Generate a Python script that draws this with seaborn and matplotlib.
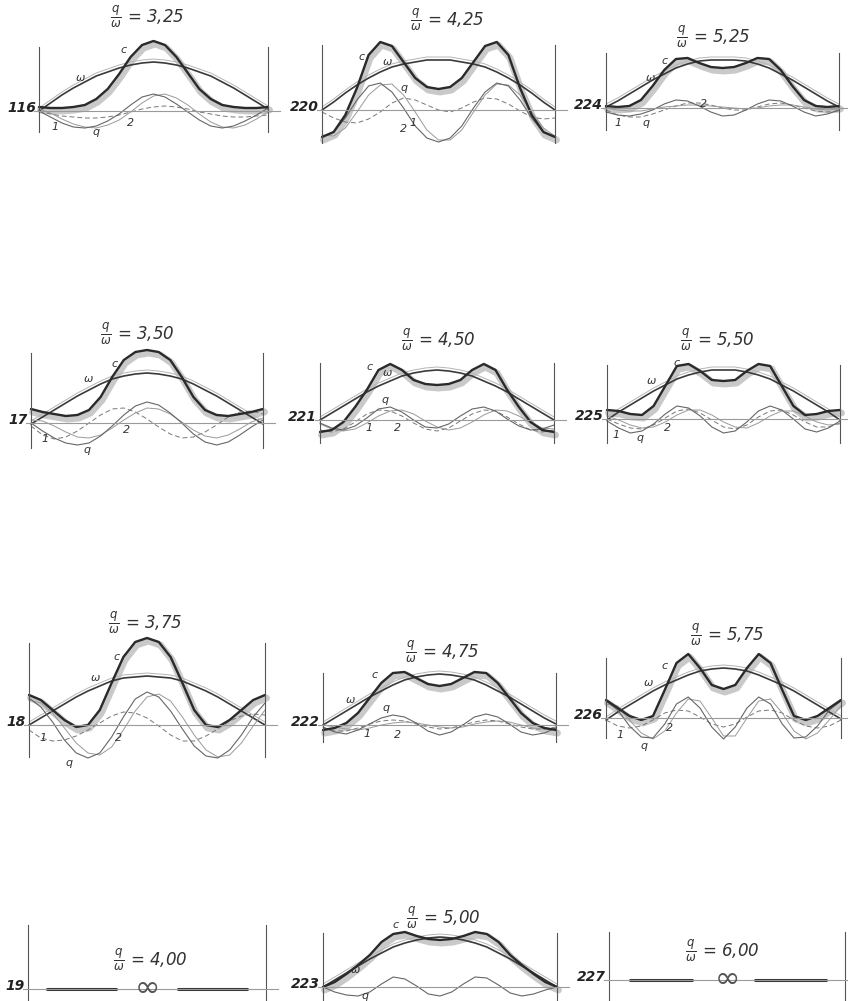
import numpy as np
import matplotlib
matplotlib.use("Agg")
import matplotlib.pyplot as plt
import seaborn as sns
from matplotlib.transforms import offset_copy

# x positions along the span (0 = left support, 1 = right support)
T = np.linspace(0, 1, 21)

# curve heights, in pixels above the baseline
W_325 = [0, 8, 16, 23, 29, 35, 39, 43, 46, 48, 49, 48, 46, 43, 39, 35, 29, 23, 16, 9, 2]
C_325 = [4, 3, 3, 4, 6, 12, 22, 37, 54, 66, 70, 66, 54, 38, 22, 12, 6, 4, 3, 3, 4]
Q_325 = [0, -6, -12, -16, -17, -15, -10, -3, 6, 14, 17, 14, 7, -1, -9, -15, -17, -15, -10, -4, 3]
ONE_325 = [0, -3, -5, -6, -7, -7, -6, -4, -1, 2, 4, 5, 4, 2, -1, -3, -5, -6, -6, -5, -4]
TWO_325 = [2, -2, -8, -13, -16, -17, -14, -9, -1, 8, 15, 17, 13, 6, -3, -11, -16, -17, -14, -8, -1]

W_425 = [0, 8, 17, 25, 32, 38, 43, 46, 48, 50, 50, 50, 48, 46, 43, 38, 32, 25, 17, 8, 0]
C_425 = [-27, -22, -5, 22, 55, 68, 64, 48, 32, 23, 21, 23, 32, 48, 64, 68, 55, 22, -5, -22, -27]
Q_425 = [-27, -22, -8, 10, 24, 27, 18, 2, -16, -28, -32, -28, -16, 2, 18, 27, 24, 10, -8, -22, -27]
ONE_425 = [-2, -8, -12, -13, -9, -2, 7, 12, 10, 5, 0, -2, 2, 8, 12, 11, 6, -1, -7, -9, -8]
TWO_425 = [-25, -26, -18, -2, 15, 25, 26, 15, -2, -20, -30, -30, -20, -2, 15, 26, 25, 15, -2, -18, -26]

W_525 = [1, 7, 14, 21, 28, 34, 40, 44, 47, 48, 48, 48, 47, 44, 40, 34, 28, 21, 14, 7, 1]
C_525 = [2, 1, 2, 8, 22, 38, 49, 50, 45, 41, 40, 41, 45, 50, 49, 38, 22, 8, 2, 1, 2]
Q_525 = [-4, -7, -8, -6, -2, 4, 8, 7, 2, -4, -8, -7, -2, 4, 8, 7, 2, -4, -8, -6, -2]
ONE_525 = [-2, -7, -9, -9, -6, -2, 2, 5, 5, 3, 0, -2, -2, 1, 4, 5, 3, 0, -3, -4, -3]
TWO_525 = [0, -2, -3, -3, -1, 1, 2, 3, 3, 2, 1, 0, -1, 0, 2, 3, 3, 1, -1, -2, -1]

W_350 = [-1, 6, 13, 20, 27, 33, 39, 44, 47, 49, 50, 49, 47, 44, 39, 33, 27, 20, 13, 6, -1]
C_350 = [14, 11, 9, 7, 8, 13, 26, 46, 63, 71, 73, 71, 63, 46, 26, 13, 8, 7, 9, 11, 14]
Q_350 = [0, -8, -15, -20, -22, -20, -13, -3, 8, 17, 21, 18, 10, 0, -11, -19, -22, -19, -12, -4, 3]
ONE_350 = [-3, -12, -16, -14, -8, 0, 8, 14, 15, 11, 4, -4, -11, -15, -14, -9, -2, 6, 11, 12, 9]
TWO_350 = [3, 2, -3, -9, -14, -15, -12, -5, 3, 10, 15, 14, 9, 1, -7, -13, -15, -12, -6, 1, 5]

W_450 = [0, 7, 14, 21, 28, 34, 39, 44, 47, 49, 50, 49, 47, 44, 39, 34, 28, 21, 14, 7, 0]
C_450 = [-12, -10, -2, 13, 30, 50, 56, 50, 40, 36, 35, 36, 40, 50, 56, 50, 30, 13, -2, -10, -12]
Q_450 = [-3, -8, -10, -6, 2, 11, 13, 8, 0, -7, -8, -4, 4, 11, 13, 9, 1, -6, -10, -9, -5]
ONE_450 = [-10, -12, -9, -2, 6, 10, 9, 4, -3, -9, -11, -8, -1, 6, 10, 9, 3, -4, -10, -12, -10]
TWO_450 = [-4, -9, -11, -9, -3, 4, 9, 10, 6, -1, -7, -10, -8, -2, 5, 10, 9, 4, -3, -8, -9]

W_550 = [-1, 7, 14, 21, 28, 34, 40, 44, 47, 49, 49, 49, 47, 44, 40, 34, 28, 21, 14, 7, -1]
C_550 = [9, 8, 5, 4, 13, 33, 53, 55, 48, 39, 38, 39, 48, 55, 53, 33, 13, 4, 5, 8, 9]
Q_550 = [-2, -9, -14, -12, -5, 5, 13, 11, 3, -8, -14, -12, -3, 8, 13, 9, 0, -10, -13, -9, -2]
ONE_550 = [0, -5, -9, -10, -6, 1, 8, 10, 6, -1, -8, -10, -6, 2, 8, 9, 4, -3, -8, -8, -4]
TWO_550 = [3, -1, -6, -9, -8, -3, 4, 9, 9, 4, -3, -8, -9, -4, 3, 8, 8, 3, -3, -6, -5]

W_375 = [0, 7, 14, 21, 28, 34, 39, 44, 47, 48, 49, 48, 47, 44, 39, 34, 28, 21, 14, 7, 0]
C_375 = [30, 25, 15, 5, -2, 0, 15, 42, 68, 83, 87, 83, 68, 42, 15, 0, -2, 5, 15, 25, 30]
Q_375 = [27, 18, 3, -15, -28, -33, -28, -12, 8, 26, 33, 28, 14, -4, -21, -31, -33, -25, -10, 8, 22]
ONE_375 = [-5, -13, -16, -15, -11, -5, 2, 9, 13, 12, 7, -1, -10, -16, -16, -11, -4, 4, 9, 11, 10]
TWO_375 = [25, 22, 12, -3, -18, -28, -30, -22, -5, 14, 28, 31, 24, 8, -10, -25, -32, -30, -18, -1, 15]

W_475 = [0, 7, 14, 21, 28, 34, 40, 45, 48, 50, 51, 50, 48, 45, 40, 34, 28, 21, 14, 7, 1]
C_475 = [-5, -3, 2, 12, 27, 42, 52, 53, 47, 41, 39, 41, 47, 53, 52, 42, 27, 12, 2, -3, -5]
Q_475 = [-2, -7, -9, -5, 1, 7, 10, 8, 2, -6, -10, -7, 0, 8, 11, 8, 1, -7, -10, -8, -3]
ONE_475 = [-3, -6, -6, -3, 1, 4, 5, 4, 1, -2, -4, -3, 0, 3, 5, 4, 1, -2, -4, -4, -2]
TWO_475 = [0, -2, -4, -5, -3, 0, 2, 3, 2, 0, -2, -3, -2, 1, 3, 4, 3, 0, -3, -4, -3]

W_575 = [-2, 6, 13, 20, 27, 33, 38, 43, 47, 49, 50, 49, 47, 43, 38, 33, 27, 20, 13, 6, -1]
C_575 = [18, 10, 2, -2, 2, 28, 55, 64, 50, 33, 29, 33, 50, 64, 55, 28, 2, -2, 2, 10, 18]
Q_575 = [17, 8, -8, -19, -20, -6, 14, 21, 10, -9, -21, -9, 10, 21, 14, -6, -20, -19, -8, 8, 17]
ONE_575 = [-2, -8, -10, -8, -2, 5, 8, 7, 1, -6, -9, -6, 1, 7, 8, 5, -2, -8, -10, -8, -2]
TWO_575 = [14, 12, -2, -15, -21, -13, 5, 19, 17, 0, -18, -18, 0, 17, 19, 5, -13, -21, -15, -2, 12]

W_500 = [0, 7, 14, 21, 28, 34, 40, 44, 47, 49, 50, 49, 47, 44, 40, 34, 28, 21, 14, 7, 0]
C_500 = [0, 5, 13, 22, 32, 45, 53, 55, 51, 48, 47, 48, 51, 55, 53, 45, 32, 22, 13, 5, 0]
Q_500 = [0, -5, -8, -9, -5, 3, 10, 8, 1, -7, -9, -5, 3, 10, 9, 2, -6, -9, -7, -3, 0]

# degenerate cases: only the heavy straight pieces either side of the loop
SEG_400 = [(0.08, 0.37), (0.63, 0.92)]
SEG_600 = [(0.09, 0.35), (0.62, 0.92)]

CURVES = {
    "3,25": (W_325, C_325, Q_325, ONE_325, TWO_325),
    "4,25": (W_425, C_425, Q_425, ONE_425, TWO_425),
    "5,25": (W_525, C_525, Q_525, ONE_525, TWO_525),
    "3,50": (W_350, C_350, Q_350, ONE_350, TWO_350),
    "4,50": (W_450, C_450, Q_450, ONE_450, TWO_450),
    "5,50": (W_550, C_550, Q_550, ONE_550, TWO_550),
    "3,75": (W_375, C_375, Q_375, ONE_375, TWO_375),
    "4,75": (W_475, C_475, Q_475, ONE_475, TWO_475),
    "5,75": (W_575, C_575, Q_575, ONE_575, TWO_575),
    "5,00": (W_500, C_500, Q_500, None, None),
}
SEGMENTS = {"4,00": SEG_400, "6,00": SEG_600}

# curve labels: (text, position along span, height above baseline)
LABELS = {
    "3,25": [("ω", .18, 33), ("c", .37, 61), ("1", .07, -16), ("q", .25, -21), ("2", .40, -12)],
    "4,25": [("c", .17, 53), ("ω", .28, 48), ("q", .35, 22), ("1", .39, -13), ("2", .35, -19)],
    "5,25": [("ω", .19, 30), ("c", .25, 47), ("1", .05, -15), ("q", .17, -15), ("2", .42, 4)],
    "3,50": [("ω", .25, 44), ("c", .36, 59), ("1", .06, -16), ("q", .24, -27), ("2", .41, -7)],
    "4,50": [("c", .21, 53), ("ω", .29, 47), ("q", .28, 20), ("1", .21, -8), ("2", .33, -8)],
    "5,50": [("ω", .19, 38), ("c", .30, 56), ("1", .04, -16), ("q", .14, -19), ("2", .26, -9)],
    "3,75": [("ω", .28, 47), ("c", .37, 68), ("1", .06, -13), ("q", .17, -38), ("2", .38, -13)],
    "4,75": [("ω", .12, 25), ("c", .22, 50), ("q", .27, 17), ("1", .19, -9), ("2", .32, -10)],
    "5,75": [("ω", .18, 35), ("c", .25, 52), ("1", .06, -17), ("q", .16, -28), ("2", .27, -10)],
    "5,00": [("c", .31, 62), ("ω", .14, 17), ("q", .18, -9)],
}

# panel layout in image pixels:
# key, number, left support, right support, baseline, support top, support bottom, title x, title y
PANELS = [
    ("3,25", "116", 39, 268, 111, 47, 132, 147, 17),
    ("4,25", "220", 322, 555, 110, 45, 143, 447, 20),
    ("5,25", "224", 606, 839, 108, 53, 130, 713, 37),
    ("3,50", "17", 31, 263, 423, 353, 448, 137, 334),
    ("4,50", "221", 320, 554, 420, 363, 443, 438, 340),
    ("5,50", "225", 607, 840, 419, 365, 443, 717, 340),
    ("3,75", "18", 29, 265, 725, 643, 757, 145, 623),
    ("4,75", "222", 323, 556, 725, 673, 742, 442, 652),
    ("5,75", "226", 606, 841, 718, 658, 738, 727, 635),
    ("4,00", "19", 28, 266, 989, 925, 1010, 150, 960),
    ("5,00", "223", 323, 557, 987, 933, 1010, 443, 918),
    ("6,00", "227", 609, 845, 980, 932, 1010, 722, 951),
]

FIG_W, FIG_H = 848, 1001

sns.set_theme(style="white")
plt.rcParams["font.family"] = ["DejaVu Sans"]
plt.rcParams["mathtext.fontset"] = "dejavusans"

fig = plt.figure(figsize=(FIG_W / 100, FIG_H / 100), dpi=100)
fig.patch.set_facecolor("white")

PAD_X, TOP, BOT = 22, 100, 45

for key, num, xl, xr, base, vtop, vbot, tx, ty in PANELS:
    w = xr - xl
    ax = fig.add_axes([(xl - PAD_X) / FIG_W, 1 - (base + BOT) / FIG_H,
                       (w + 2 * PAD_X) / FIG_W, (TOP + BOT) / FIG_H])
    ax.set_facecolor("none")
    ax.set_xlim(-PAD_X / w, 1 + PAD_X / w)
    ax.set_ylim(-BOT, TOP)
    ax.set_xticks([])
    ax.set_yticks([])

    # supports and baseline as spines
    ax.spines["top"].set_visible(False)
    for side, pos in (("left", 0), ("right", 1)):
        sp = ax.spines[side]
        sp.set_position(("data", pos))
        sp.set_bounds(base - vbot, base - vtop)
        sp.set_color("#555555")
        sp.set_linewidth(0.8)
    sp = ax.spines["bottom"]
    sp.set_position(("data", 0))
    sp.set_bounds(-5 / w, 1 + 12 / w)
    sp.set_color("#9a9a9a")
    sp.set_linewidth(0.8)

    if key in CURVES:
        W, C, Q, ONE, TWO = CURVES[key]
        band = offset_copy(ax.transData, fig=fig, x=1.5, y=-3, units="dots")
        sns.lineplot(x=T, y=C, ax=ax, color="#c9c9c9", lw=5, legend=False,
                     transform=band, solid_capstyle="round", solid_joinstyle="round")
        lift = offset_copy(ax.transData, fig=fig, x=0, y=3, units="dots")
        sns.lineplot(x=T, y=W, ax=ax, color="#b5b5b5", lw=0.7, legend=False, transform=lift)
        sns.lineplot(x=T, y=W, ax=ax, color="#3a3a3a", lw=1.2, legend=False,
                     solid_joinstyle="round")
        if ONE is not None:
            sns.lineplot(x=T, y=ONE, ax=ax, color="#777777", lw=0.7, ls=(0, (5, 3)), legend=False)
            sns.lineplot(x=T, y=TWO, ax=ax, color="#9a9a9a", lw=0.7, legend=False)
        sns.lineplot(x=T, y=Q, ax=ax, color="#666666", lw=0.8, legend=False)
        sns.lineplot(x=T, y=C, ax=ax, color="#2a2a2a", lw=1.7, legend=False,
                     solid_joinstyle="round")
        for txt, lt, ly in LABELS[key]:
            ax.text(lt, ly, txt, fontsize=8, style="italic", color="#333333",
                    ha="center", va="center")
    else:
        for a, b in SEGMENTS[key]:
            sns.lineplot(x=[a, b], y=[0, 0], ax=ax, color="#333333", lw=2.2, legend=False)
        ax.text(0.5, 1, "∞", fontsize=22, color="#555555", ha="center", va="center",
                family=["DejaVu Sans"])

    ax.text((tx - xl) / w, base - ty, r"$\frac{q}{\omega}$" + " = " + key,
            fontsize=12, style="italic", color="#333333", ha="center", va="center")
    ax.text(-3 / w, 3, num, fontsize=10, style="italic", fontweight="bold",
            color="#222222", ha="right", va="center")

fig.savefig("out.png", dpi=100)
